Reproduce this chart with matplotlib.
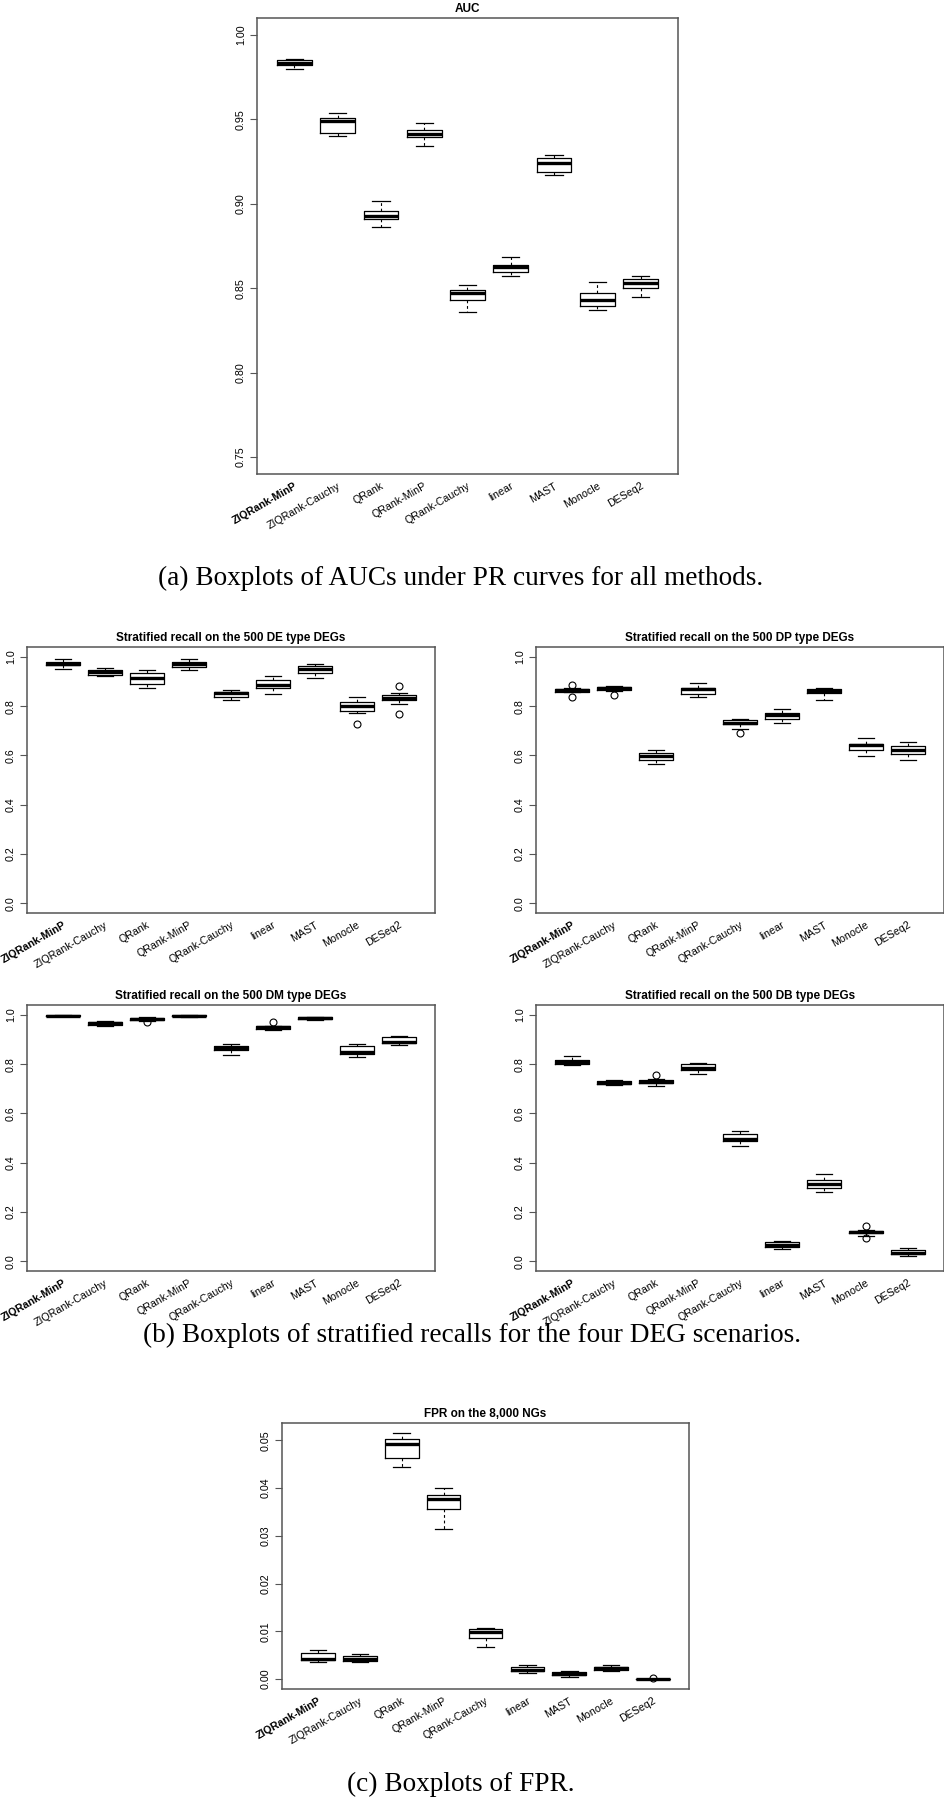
import matplotlib
matplotlib.use('Agg')
import matplotlib.pyplot as plt

methods = ['ZIQRank-MinP', 'ZIQRank-Cauchy', 'QRank', 'QRank-MinP', 'QRank-Cauchy',
           'linear', 'MAST', 'Monocle', 'DESeq2']

# per method: lower whisker, Q1, median, Q3, upper whisker
auc_box = [
    (0.980, 0.982, 0.9834, 0.985, 0.986),
    (0.940, 0.942, 0.9493, 0.9505, 0.954),
    (0.886, 0.8912, 0.8926, 0.8957, 0.9015),
    (0.9344, 0.9397, 0.9415, 0.9434, 0.948),
    (0.8358, 0.8431, 0.8472, 0.8488, 0.8518),
    (0.8573, 0.8597, 0.8624, 0.8638, 0.8682),
    (0.9168, 0.9188, 0.9243, 0.9269, 0.9289),
    (0.837, 0.8395, 0.8433, 0.8472, 0.8538),
    (0.8447, 0.8504, 0.8528, 0.8557, 0.8571),
]
auc_out = [[], [], [], [], [], [], [], [], []]

de_box = [
    (0.951, 0.965, 0.973, 0.981, 0.993),
    (0.924, 0.928, 0.939, 0.945, 0.954),
    (0.874, 0.888, 0.914, 0.935, 0.946),
    (0.946, 0.959, 0.970, 0.978, 0.993),
    (0.824, 0.835, 0.854, 0.859, 0.866),
    (0.850, 0.873, 0.886, 0.907, 0.922),
    (0.915, 0.936, 0.950, 0.964, 0.969),
    (0.772, 0.782, 0.799, 0.818, 0.836),
    (0.808, 0.824, 0.832, 0.846, 0.855),
]
de_out = [[], [], [], [], [], [], [], [0.727], [0.881, 0.770]]

dp_box = [
    (0.857, 0.859, 0.865, 0.870, 0.872),
    (0.861, 0.865, 0.872, 0.877, 0.880),
    (0.566, 0.581, 0.596, 0.611, 0.623),
    (0.838, 0.849, 0.868, 0.872, 0.895),
    (0.709, 0.726, 0.732, 0.742, 0.747),
    (0.730, 0.747, 0.764, 0.774, 0.788),
    (0.823, 0.853, 0.862, 0.870, 0.874),
    (0.597, 0.620, 0.641, 0.647, 0.672),
    (0.582, 0.605, 0.623, 0.639, 0.653),
]
dp_out = [[0.886, 0.835], [0.845], [], [], [0.692], [], [], [], []]

dm_box = [
    (0.995, 0.996, 0.997, 0.999, 1.000),
    (0.954, 0.957, 0.966, 0.972, 0.977),
    (0.977, 0.980, 0.985, 0.989, 0.990),
    (0.992, 0.995, 0.997, 0.999, 1.000),
    (0.837, 0.856, 0.867, 0.874, 0.883),
    (0.940, 0.944, 0.950, 0.954, 0.955),
    (0.981, 0.984, 0.986, 0.990, 0.993),
    (0.829, 0.840, 0.848, 0.874, 0.883),
    (0.878, 0.886, 0.891, 0.912, 0.916),
]
dm_out = [[], [], [0.970], [], [], [0.972], [], [], []]

db_box = [
    (0.798, 0.801, 0.809, 0.818, 0.833),
    (0.715, 0.718, 0.725, 0.733, 0.737),
    (0.712, 0.723, 0.729, 0.735, 0.741),
    (0.761, 0.777, 0.784, 0.799, 0.805),
    (0.468, 0.488, 0.497, 0.518, 0.529),
    (0.049, 0.056, 0.064, 0.076, 0.081),
    (0.282, 0.296, 0.312, 0.328, 0.355),
    (0.104, 0.113, 0.118, 0.123, 0.125),
    (0.020, 0.028, 0.034, 0.045, 0.052),
]
db_out = [[], [], [0.756], [], [], [], [], [0.141, 0.096], []]

fpr_box = [
    (0.0035, 0.0041, 0.0043, 0.0055, 0.00605),
    (0.0035, 0.0038, 0.0042, 0.0049, 0.0053),
    (0.0443, 0.0462, 0.0492, 0.0503, 0.0515),
    (0.0315, 0.0357, 0.0376, 0.0386, 0.0399),
    (0.0067, 0.0087, 0.0099, 0.0104, 0.0108),
    (0.0012, 0.0017, 0.0020, 0.0026, 0.0030),
    (0.0004, 0.0008, 0.0010, 0.0014, 0.0017),
    (0.0017, 0.0019, 0.0023, 0.0026, 0.0030),
    (0.0, 0.0, 0.00002, 0.00005, 0.00005),
]
fpr_out = [[], [], [], [], [], [], [], [], [0.0003]]

W, H = 945, 1800
SANS = 'Liberation Sans'
SERIF = 'Liberation Serif'
GREY = '#555555'


def add_axes_px(fig, left, top, right, bottom):
    return fig.add_axes([left / W, 1 - bottom / H, (right - left) / W, (bottom - top) / H])


def panel(ax, boxes, outliers, title, ylim, yticks, fmt):
    stats = []
    for (lo, q1, med, q3, hi), fl in zip(boxes, outliers):
        stats.append(dict(whislo=lo, q1=q1, med=med, q3=q3, whishi=hi, fliers=fl))
    pos = list(range(1, len(methods) + 1))
    ax.bxp(stats, positions=pos, widths=0.8, capwidths=0.4, manage_ticks=False,
           boxprops=dict(color='black', lw=0.9),
           medianprops=dict(color='black', lw=2.4, solid_capstyle='butt'),
           whiskerprops=dict(color='black', lw=0.8, linestyle=(0, (2.5, 2.5))),
           capprops=dict(color='black', lw=0.9),
           flierprops=dict(marker='o', markerfacecolor='none', markeredgecolor='black',
                           markersize=5, markeredgewidth=0.8))
    ax.set_xlim(0.14, 9.86)
    ax.set_ylim(*ylim)
    ax.set_xticks([])
    ax.set_yticks(yticks)
    ax.set_yticklabels([fmt % v for v in yticks], rotation=90, va='center',
                       family=SANS, fontsize=7.7)
    ax.tick_params(axis='y', direction='out', length=5, width=0.8, color=GREY, pad=3)
    for s in ax.spines.values():
        s.set_color(GREY)
        s.set_linewidth(1.1)
    ax.set_title(title, fontsize=8.5, fontweight='bold', family=SANS, pad=4)
    # rotated method names under the axis
    for i, name in enumerate(methods):
        ax.annotate(name, xy=(pos[i] + 0.05, ylim[0]), xycoords='data',
                    xytext=(0, -8), textcoords='offset points',
                    rotation=30, rotation_mode='anchor', ha='right', va='center',
                    fontsize=7.7, family=SANS,
                    fontweight='bold' if i == 0 else 'normal',
                    annotation_clip=False)


fig = plt.figure(figsize=(W / 100, H / 100), dpi=100)

ax_a = add_axes_px(fig, 257, 18, 678, 474)
panel(ax_a, auc_box, auc_out, 'AUC', (0.74, 1.01),
      [0.75, 0.80, 0.85, 0.90, 0.95, 1.00], '%.2f')

recall_ticks = [0.0, 0.2, 0.4, 0.6, 0.8, 1.0]
ax_de = add_axes_px(fig, 27, 647, 435, 913)
panel(ax_de, de_box, de_out, 'Stratified recall on the 500 DE type DEGs',
      (-0.04, 1.04), recall_ticks, '%.1f')
ax_dp = add_axes_px(fig, 536, 647, 944, 913)
panel(ax_dp, dp_box, dp_out, 'Stratified recall on the 500 DP type DEGs',
      (-0.04, 1.04), recall_ticks, '%.1f')
ax_dm = add_axes_px(fig, 27, 1005, 435, 1271)
panel(ax_dm, dm_box, dm_out, 'Stratified recall on the 500 DM type DEGs',
      (-0.04, 1.04), recall_ticks, '%.1f')
ax_db = add_axes_px(fig, 536, 1005, 944, 1271)
panel(ax_db, db_box, db_out, 'Stratified recall on the 500 DB type DEGs',
      (-0.04, 1.04), recall_ticks, '%.1f')

ax_c = add_axes_px(fig, 282, 1423, 689, 1689)
panel(ax_c, fpr_box, fpr_out, 'FPR on the 8,000 NGs', (-0.00206, 0.0536),
      [0.00, 0.01, 0.02, 0.03, 0.04, 0.05], '%.2f')

fig.text(461 / W, 1 - 578 / H, '(a) Boxplots of AUCs under PR curves for all methods.',
         ha='center', va='center', fontsize=19.6, family=SERIF)
fig.text(472 / W, 1 - 1335 / H, '(b) Boxplots of stratified recalls for the four DEG scenarios.',
         ha='center', va='center', fontsize=19.6, family=SERIF)
fig.text(461 / W, 1 - 1784 / H, '(c) Boxplots of FPR.',
         ha='center', va='center', fontsize=19.6, family=SERIF)

fig.savefig('out.png', dpi=100)
